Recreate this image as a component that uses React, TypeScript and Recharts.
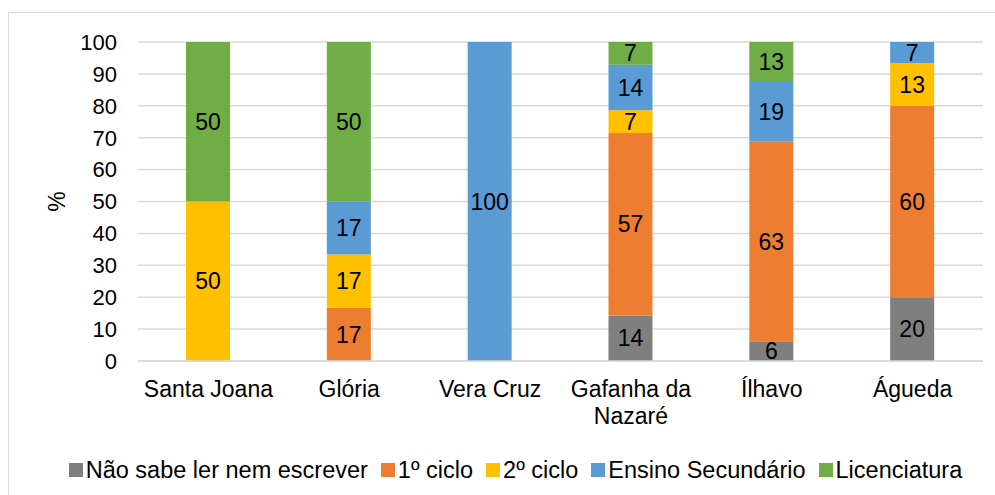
import { BarChart, Bar, XAxis, YAxis, CartesianGrid, Legend, LabelList, Text } from "recharts";

const categories = ["Santa Joana", "Glória", "Vera Cruz", "Gafanha da Nazaré", "Ílhavo", "Águeda"];
const naoSabe = [0, 0, 0, 14.3, 6.2, 20];
const ciclo1 = [0, 16.7, 0, 57.2, 62.5, 60];
const ciclo2 = [50, 16.7, 0, 7.1, 0, 13.3];
const secundario = [0, 16.6, 100, 14.3, 18.8, 6.7];
const licenciatura = [50, 50, 0, 7.1, 12.5, 0];
const yTicks = [0, 10, 20, 30, 40, 50, 60, 70, 80, 90, 100];

const series = [
  { key: "naoSabe", name: "Não sabe ler nem escrever", color: "#7f7f7f" },
  { key: "ciclo1", name: "1º ciclo", color: "#ed7d31" },
  { key: "ciclo2", name: "2º ciclo", color: "#ffc000" },
  { key: "secundario", name: "Ensino Secundário", color: "#5b9bd5" },
  { key: "licenciatura", name: "Licenciatura", color: "#70ad47" },
];

const data = categories.map((c, i) => ({
  category: c,
  naoSabe: naoSabe[i],
  ciclo1: ciclo1[i],
  ciclo2: ciclo2[i],
  secundario: secundario[i],
  licenciatura: licenciatura[i],
}));

const FONT = "'Liberation Sans', Arial, sans-serif";

function CategoryTick(props: any) {
  const { x, y, payload } = props;
  return (
    <Text
      x={x}
      y={y}
      width={135}
      lineHeight={27}
      textAnchor="middle"
      verticalAnchor="start"
      fill="#000"
      style={{ fontFamily: FONT, fontSize: 23 }}
    >
      {payload.value}
    </Text>
  );
}

function ChartLegend() {
  return (
    <div
      style={{
        display: "flex",
        justifyContent: "center",
        alignItems: "center",
        height: 40,
        paddingLeft: 48,
        fontFamily: FONT,
        fontSize: 23.5,
        color: "#000",
      }}
    >
      {series.map((s, i) => (
        <div key={s.key} style={{ display: "flex", alignItems: "center", marginRight: i < series.length - 1 ? 13 : 0 }}>
          <span style={{ width: 14, height: 14, background: s.color, marginRight: 3 }} />
          <span>{s.name}</span>
        </div>
      ))}
    </div>
  );
}

const fmt = (v: any) => (v ? Math.round(v) : "");

export default function App() {
  return (
    <div style={{ position: "fixed", left: 0, top: 0, width: 995, height: 495, overflow: "hidden", background: "#fff" }}>
      <div
        style={{
          position: "absolute",
          left: 8,
          top: 12,
          width: 1000,
          height: 500,
          border: "1.5px solid #d9d9d9",
        }}
      />
      <div style={{ position: "absolute", left: 0, top: 0 }}>
        <BarChart width={995} height={495} data={data} margin={{ top: 42, right: 12, left: 0, bottom: 5 }}>
          <CartesianGrid vertical={false} stroke="#d9d9d9" strokeWidth={1.5} />
          <XAxis
            dataKey="category"
            height={89}
            tickLine={false}
            tickSize={0}
            tickMargin={20}
            axisLine={{ stroke: "#d9d9d9", strokeWidth: 1.5 }}
            tick={<CategoryTick />}
            interval={0}
          />
          <YAxis
            width={138}
            domain={[0, 100]}
            ticks={yTicks}
            allowDataOverflow
            axisLine={false}
            tickLine={false}
            tickSize={0}
            tickMargin={21}
            tick={{ fill: "#000", fontSize: 22, fontFamily: FONT }}
            label={{ value: "%", angle: -90, position: "center", dx: -12, fill: "#000", fontSize: 23, fontFamily: FONT }}
          />
          <Legend verticalAlign="bottom" content={<ChartLegend />} />
          {series.map((s) => (
            <Bar key={s.key} dataKey={s.key} name={s.name} stackId="a" fill={s.color} barSize={44} isAnimationActive={false}>
              <LabelList
                dataKey={s.key}
                position="center"
                formatter={fmt}
                fill="#000"
                style={{ fontSize: 23, fontFamily: FONT }}
              />
            </Bar>
          ))}
        </BarChart>
      </div>
    </div>
  );
}
